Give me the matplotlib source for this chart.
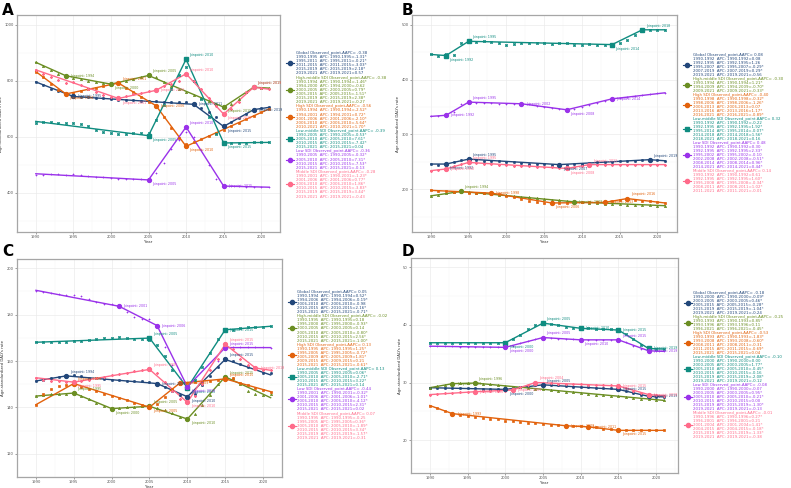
import numpy as np
import matplotlib.pyplot as plt
from matplotlib.lines import Line2D

years = np.arange(1990, 2022)
groups = ["Global", "High-middle SDI", "High SDI", "Low-middle SDI", "Low SDI", "Middle SDI"]
colors = ["#22477a", "#6b8e23", "#e2620c", "#0f8c80", "#9a32ea", "#ff6b8a"]

# ---------------- panel A ----------------
a_obs = [
    [796, 784, 771, 762, 754, 745, 742, 741, 739, 737, 735, 733, 731, 730, 729, 728,
     727, 726, 725, 724, 723, 718, 704, 688, 672, 640, 652, 667, 683, 697, 702, 705],
    [866, 853, 838, 826, 818, 810, 805, 799, 795, 791, 788, 792, 798, 806, 812, 818,
     812, 795, 780, 770, 760, 748, 737, 727, 716, 706, 717, 735, 760, 777, 776, 774],
    [833, 812, 788, 766, 753, 758, 764, 770, 776, 782, 788, 792, 776, 760, 742, 725,
     711, 670, 630, 596, 575, 580, 592, 604, 615, 625, 638, 650, 662, 675, 688, 700],
    [651, 652, 652, 651, 649, 648, 645, 638, 626, 617, 612, 610, 611, 614, 615, 614,
     660, 715, 770, 820, 850, 800, 735, 670, 610, 580, 578, 578, 579, 580, 580, 580],
    [463, 465, 466, 466, 465, 466, 463, 461, 458, 456, 453, 451, 451, 451, 451, 448,
     472, 507, 555, 590, 616, 600, 552, 500, 449, 425, 424, 423, 422, 422, 421, 421],
    [840, 825, 812, 802, 793, 795, 785, 772, 760, 750, 742, 737, 745, 752, 758, 764,
     772, 780, 790, 800, 824, 798, 770, 740, 710, 682, 700, 725, 760, 775, 773, 770],
]
a_jp_years = [
    [1990, 1995, 2011, 2015, 2019, 2021],
    [1990, 1994, 2000, 2005, 2015, 2019, 2021],
    [1990, 1994, 2001, 2006, 2010, 2021],
    [1990, 2005, 2010, 2015, 2021],
    [1990, 2005, 2010, 2015, 2021],
    [1990, 2001, 2006, 2010, 2015, 2019, 2021],
]
a_jp_vals = [
    [796, 744, 716, 637, 697, 705],
    [866, 818, 788, 819, 706, 777, 774],
    [833, 753, 792, 711, 566, 699],
    [655, 604, 877, 578, 580],
    [468, 446, 635, 424, 420],
    [839, 737, 766, 825, 681, 777, 770],
]
a_aapc = ["-0.38", "-0.38", "-0.56", "-0.39", "-0.36", "-0.28"]
a_apc = [
    ["-1.31*", "-0.21*", "-3.03*", "2.18*", "0.57"],
    ["-1.46*", "-0.62", "0.79*", "-1.51*", "2.38*", "-0.27"],
    ["-2.52*", "0.72*", "-2.10*", "-5.64*", "1.70*"],
    ["-0.53*", "7.61*", "-7.42*", "0.04"],
    ["-0.32*", "7.31*", "-7.53*", "-0.13"],
    ["-1.23*", "0.77*", "1.86*", "-3.83*", "3.44*", "-0.43"],
]

# ---------------- panel B ----------------
b_obs = [
    [246, 245, 246, 249, 253, 255, 253, 252, 251, 251, 250, 249, 248, 247, 247, 246,
     245, 245, 245, 246, 246, 248, 249, 250, 250, 251, 252, 252, 253, 254, 253, 252],
    [188, 190, 193, 195, 196, 195, 194, 193, 191, 190, 189, 188, 186, 185, 184, 183,
     181, 180, 178, 177, 176, 175, 175, 174, 174, 173, 172, 172, 171, 171, 170, 170],
    [198, 197, 196, 195, 195, 194, 194, 193, 193, 191, 188, 185, 182, 179, 177, 175,
     175, 175, 175, 176, 176, 176, 176, 176, 178, 180, 182, 181, 179, 178, 176, 175],
    [446, 443, 446, 445, 466, 471, 469, 470, 468, 466, 464, 465, 466, 467, 466, 466,
     465, 466, 466, 463, 464, 465, 463, 463, 465, 466, 473, 482, 490, 491, 490, 490],
    [333, 334, 335, 341, 355, 358, 357, 357, 358, 356, 356, 356, 356, 355, 352, 350,
     348, 346, 344, 347, 350, 354, 358, 361, 364, 366, 368, 370, 372, 374, 375, 376],
    [234, 236, 237, 242, 247, 249, 248, 247, 246, 245, 244, 243, 243, 242, 241, 241,
     240, 239, 238, 240, 242, 244, 245, 245, 245, 245, 245, 245, 245, 245, 245, 245],
]
b_jp_years = [
    [1990, 1992, 1995, 2007, 2019, 2021],
    [1990, 1994, 2009, 2021],
    [1990, 1998, 2006, 2013, 2016, 2021],
    [1990, 1992, 1995, 2014, 2018, 2021],
    [1990, 1992, 1995, 2002, 2008, 2014, 2021],
    [1990, 1992, 1995, 2008, 2011, 2021],
]
b_jp_vals = [
    [246, 246, 255, 245, 254, 252],
    [188, 196, 177, 170],
    [198, 193, 175, 176, 183, 175],
    [446, 444, 470, 464, 491, 491],
    [333, 335, 359, 356, 345, 365, 376],
    [234, 237, 249, 238, 245, 245],
]
b_aapc = ["0.08", "-0.30", "-0.40", "0.32", "0.48", "0.14"]
b_apc = [
    ["0.08", "1.26", "-0.29*", "0.29*", "-0.56"],
    ["1.21*", "-0.70*", "-0.33*"],
    ["-0.32*", "-1.26*", "0.07", "1.17*", "-0.89*"],
    ["-0.22", "1.92*", "-0.07*", "1.56*", "0.16"],
    ["0.30", "2.33*", "-0.10", "-0.51*", "0.96*", "0.44*"],
    ["0.61", "1.60*", "-0.34*", "1.02*", "-0.01"],
]

# ---------------- panel C ----------------
c_obs = [
    [151.3, 152.0, 152.8, 153.3, 153.6, 154.0, 153.4, 152.9, 152.6, 152.3, 152.0, 151.8,
     151.6, 151.4, 151.2, 150.9, 150.6, 148.8, 147.2, 145.5, 144.6, 146.0, 149.5, 153.5,
     157.5, 160.3, 160.0, 158.8, 157.5, 156.5, 155.0, 154.8],
    [144.9, 145.3, 145.8, 145.9, 146.0, 146.2, 145.0, 143.5, 142.0, 140.5, 139.6, 139.8,
     140.0, 140.2, 140.4, 140.6, 139.8, 138.7, 137.5, 135.9, 135.2, 137.0, 141.0, 145.5,
     150.0, 153.0, 152.5, 150.0, 147.0, 145.8, 145.5, 146.0],
    [141.1, 146.0, 148.0, 149.2, 149.8, 150.2, 149.0, 148.0, 147.0, 146.0, 145.0, 144.0,
     143.0, 142.0, 141.0, 140.2, 141.5, 144.5, 147.8, 150.2, 150.5, 150.8, 151.0, 151.3,
     151.8, 152.4, 152.5, 150.5, 149.5, 148.5, 147.5, 146.8],
    [168.0, 168.0, 168.0, 168.1, 168.3, 168.5, 168.7, 169.0, 169.3, 169.8, 170.0, 170.2,
     170.0, 169.7, 169.3, 169.2, 167.0, 162.0, 156.0, 150.5, 148.0, 152.0, 157.5, 163.5,
     169.5, 173.0, 173.5, 174.2, 174.6, 174.8, 174.8, 175.0],
    [190.3, 189.8, 189.3, 188.8, 188.6, 188.5, 188.0, 186.7, 185.5, 184.8, 184.5, 183.4,
     181.0, 179.0, 178.2, 178.0, 175.0, 166.0, 158.5, 152.5, 148.8, 146.5, 151.0, 156.0,
     160.0, 165.0, 166.0, 166.0, 166.0, 166.0, 166.0, 165.8],
    [152.8, 152.0, 151.5, 151.2, 151.0, 150.9, 151.5, 152.0, 152.6, 153.2, 153.8, 154.4,
     155.0, 155.6, 156.0, 156.2, 155.0, 151.0, 147.0, 143.5, 142.0, 145.0, 150.0, 156.0,
     161.0, 166.5, 165.0, 161.0, 158.5, 157.0, 156.3, 156.0],
]
c_jp_years = [
    [1990, 1994, 2006, 2010, 2015, 2021],
    [1990, 1995, 2000, 2005, 2010, 2015, 2021],
    [1990, 1995, 2005, 2009, 2015, 2021],
    [1990, 2005, 2010, 2015, 2021],
    [1990, 2001, 2006, 2010, 2015, 2021],
    [1990, 1995, 2005, 2010, 2015, 2019, 2021],
]
c_jp_vals = [
    [151.4, 153.6, 150.3, 144.6, 160.7, 154.0],
    [144.9, 146.2, 139.5, 140.5, 135.0, 153.2, 144.2],
    [141.2, 150.3, 140.1, 150.5, 152.3, 146.8],
    [168.1, 169.9, 148.5, 173.5, 175.0],
    [190.5, 183.6, 175.3, 148.9, 165.8, 165.8],
    [152.8, 150.9, 156.4, 142.2, 167.2, 157.0, 156.0],
]
c_aapc = ["0.05", "-0.02", "0.13", "0.13", "-0.44", "0.07"]
c_apc = [
    ["0.52*", "-0.19*", "-0.98", "2.16*", "-0.71*"],
    ["0.18", "-0.93*", "0.14", "-0.80*", "2.56*", "-1.00*"],
    ["1.25*", "-0.72*", "1.81*", "0.21", "-0.61*"],
    ["0.06*", "-2.71*", "3.22*", "0.14"],
    ["-0.32*", "-1.01*", "-4.12*", "2.31*", "0.02"],
    ["-0.25", "0.36*", "-1.89*", "3.34*", "-1.57*", "-0.31"],
]

# ---------------- panel D ----------------
d_obs = [
    [29.1, 29.1, 29.0, 29.0, 29.0, 29.0, 29.0, 28.9, 28.9, 28.9, 28.8, 29.0, 29.2, 29.4,
     29.5, 29.6, 29.5, 29.5, 29.4, 29.3, 29.2, 29.2, 29.1, 29.0, 29.0, 28.8, 28.5, 28.2,
     27.9, 27.6, 27.5, 27.5],
    [29.1, 29.4, 29.6, 29.8, 29.9, 29.9, 29.9, 29.8, 29.7, 29.5, 29.4, 29.3, 29.2, 29.0,
     28.9, 28.8, 28.7, 28.5, 28.4, 28.3, 28.2, 28.0, 27.9, 27.8, 27.7, 27.6, 27.5, 27.3,
     27.2, 27.1, 27.0, 26.9],
    [26.0, 25.5, 25.0, 24.6, 24.4, 24.2, 24.1, 23.9, 23.7, 23.6, 23.4, 23.3, 23.1, 23.0,
     22.9, 22.8, 22.7, 22.6, 22.5, 22.4, 22.4, 22.3, 22.2, 22.0, 21.9, 21.7, 21.7, 21.7,
     21.7, 21.7, 21.7, 21.7],
    [36.9, 36.9, 36.9, 36.9, 36.9, 36.9, 36.9, 36.9, 36.9, 36.9, 36.9, 37.5, 38.3, 39.2,
     40.0, 40.4, 40.1, 39.9, 39.7, 39.5, 39.4, 39.4, 39.3, 39.3, 39.2, 39.1, 38.5, 37.5,
     36.5, 35.9, 35.8, 35.8],
    [36.3, 36.3, 36.3, 36.3, 36.2, 36.2, 36.2, 36.2, 36.2, 36.1, 36.1, 36.4, 36.8, 37.2,
     37.6, 37.8, 37.7, 37.6, 37.5, 37.5, 37.4, 37.4, 37.4, 37.4, 37.4, 37.4, 37.0, 36.4,
     35.8, 35.5, 35.4, 35.4],
    [27.9, 28.0, 28.1, 28.2, 28.3, 28.4, 28.4, 28.5, 28.5, 28.6, 28.6, 28.7, 29.2, 29.6,
     30.0, 29.9, 29.9, 29.8, 29.8, 29.7, 29.7, 29.6, 29.6, 29.5, 29.5, 29.4, 29.0, 28.6,
     28.2, 27.9, 27.8, 27.7],
]
d_jp_years = [
    [1990, 2000, 2005, 2015, 2019, 2021],
    [1990, 1993, 1996, 2021],
    [1990, 1993, 2008, 2011, 2015, 2021],
    [1990, 2000, 2005, 2010, 2015, 2019, 2021],
    [1990, 2000, 2005, 2010, 2015, 2019, 2021],
    [1990, 1996, 2001, 2004, 2015, 2019, 2021],
]
d_jp_vals = [
    [29.1, 28.8, 29.6, 28.8, 27.6, 27.5],
    [29.1, 29.8, 29.9, 26.9],
    [26.0, 24.6, 22.5, 22.3, 21.7, 21.7],
    [36.9, 36.9, 40.3, 39.4, 39.1, 35.9, 35.8],
    [36.3, 36.1, 37.8, 37.4, 37.4, 35.5, 35.4],
    [27.9, 28.4, 28.7, 30.0, 29.4, 27.9, 27.7],
]
d_aapc = ["-0.18", "-0.25", "-0.53", "-0.10", "-0.08", "-0.01"]
d_apc = [
    ["-0.09*", "0.46*", "-0.28*", "-1.04*", "-0.24"],
    ["0.85*", "0.11", "-0.45*"],
    ["-1.83*", "-0.60*", "-0.31", "-0.69*", "0.04"],
    ["0.00", "1.77*", "-0.45*", "-0.16", "-2.08*", "-0.12"],
    ["-0.07", "0.95*", "-0.21*", "0.00", "-1.30*", "-0.13"],
    ["0.27*", "0.21", "1.41*", "-0.18*", "-1.33*", "-0.38"],
]

panels = [
    ("A", a_obs, a_jp_years, a_jp_vals, a_aapc, a_apc),
    ("B", b_obs, b_jp_years, b_jp_vals, b_aapc, b_apc),
    ("C", c_obs, c_jp_years, c_jp_vals, c_aapc, c_apc),
    ("D", d_obs, d_jp_years, d_jp_vals, d_aapc, d_apc),
]

# layout, in pixels of the 791x488 picture
W, H = 791, 488
boxes = {"A": (17, 15, 280, 232), "B": (412, 15, 677, 232),
         "C": (17, 259, 282, 477), "D": (411, 258, 678, 473)}
xlims = {"A": (1988.4, 2022.4), "B": (1988.5, 2022.6),
         "C": (1988.5, 2022.45), "D": (1988.55, 2022.9)}
ylims = {"A": (260, 1035), "B": (122, 518), "C": (116, 204), "D": (14.3, 51.6)}
yticks = {"A": [400, 600, 800, 1000], "B": [200, 300, 400, 500],
          "C": [120, 140, 160, 180, 200], "D": [20, 30, 40, 50]}
legpos = {"A": (290, 296, 53, 4.1), "B": (687, 693, 55, 4.0),
          "C": (292, 297, 292, 4.05), "D": (688, 693, 293, 4.0)}
letterpos = {"A": (2, 3), "B": (402, 3), "C": (2, 244), "D": (402, 244)}

obs_marker = ["o", "^", "s", "s", "+", (8, 2, 0)]
obs_fill = [True, True, True, False, True, True]

fig = plt.figure(figsize=(W / 100, H / 100), dpi=100)

for name, obs, jpy, jpv, aapc, apc in panels:
    l, t, r, b = boxes[name]
    ax = fig.add_axes([l / W, 1 - b / H, (r - l) / W, (b - t) / H])
    ax.set_xlim(*xlims[name])
    ax.set_ylim(*ylims[name])
    ax.set_xticks([1990, 1995, 2000, 2005, 2010, 2015, 2020])
    ax.set_yticks(yticks[name])
    ax.set_xticks(np.arange(1987.5, 2023, 5), minor=True)
    ystep = yticks[name][1] - yticks[name][0]
    ax.set_yticks(np.arange(yticks[name][0] - ystep / 2, ylims[name][1], ystep), minor=True)
    ax.grid(which="major", color="#ebebeb", lw=0.5)
    ax.grid(which="minor", color="#f4f4f4", lw=0.3)
    ax.set_axisbelow(True)
    for sp in ax.spines.values():
        sp.set_color("#a6a6a6")
        sp.set_linewidth(0.9)
    ax.tick_params(which="major", labelsize=2.6, colors="#555555", length=1.2, width=0.4, pad=1.2)
    ax.tick_params(which="minor", length=0)
    ax.set_xlabel("Year", fontsize=2.8, color="#333333", labelpad=0.5)
    ax.set_ylabel("Age-standardized DALYs rate", fontsize=2.8, color="#333333", labelpad=1)

    for i, col in enumerate(colors):
        ax.plot(jpy[i], jpv[i], color=col, lw=1.0, zorder=3)
        mk = obs_marker[i]
        if obs_fill[i]:
            ax.plot(years, obs[i], ls="none", marker=mk, ms=1.6, color=col, mew=0.5, zorder=4)
        else:
            ax.plot(years, obs[i], ls="none", marker=mk, ms=2.0, mfc="none", mec=col, mew=0.5, zorder=4)
            ax.plot(years, obs[i], ls="none", marker="x", ms=1.6, color=col, mew=0.4, zorder=4)
        inner_x = jpy[i][1:-1]
        inner_y = jpv[i][1:-1]
        ax.plot(inner_x, inner_y, ls="none", marker="o" if i != 3 else "s",
                ms=2.8, color=col, zorder=5)
        for k in range(1, len(jpy[i]) - 1):
            prev_v, v, next_v = jpv[i][k - 1], jpv[i][k], jpv[i][k + 1]
            if v >= prev_v and v >= next_v:
                off, va = (2.5, 1.5), "bottom"
            elif v <= prev_v and v <= next_v:
                off, va = (2.5, -1.5), "top"
            else:
                off, va = (3.0, 0.0), "center"
            ax.annotate(f"Joinpoint: {jpy[i][k]}", (jpy[i][k], v), xytext=off,
                        textcoords="offset points", fontsize=2.3, color=col,
                        ha="left", va=va, zorder=6)

    # legend column at the right of the panel
    mx, tx, ty, step = legpos[name]
    line = 0
    for i, col in enumerate(colors):
        rows = [f"{groups[i]} Observed_point,AAPC= {aapc[i]}"]
        for k, v in enumerate(apc[i]):
            y0, y1 = jpy[i][k], jpy[i][k + 1]
            rows.append(f"{y0}-{y1}  APC: {y0}-{y1}={v}")
        first = line
        for s in rows:
            fig.text(tx / W, 1 - (ty + line * step) / H, s, fontsize=2.75,
                     color=col, ha="left", va="center")
            line += 1
        ymid = ty + (first + line - 1) / 2 * step
        fig.add_artist(Line2D([(mx - 4) / W, (mx + 4) / W], [1 - ymid / H] * 2,
                              color=col, lw=0.8))
        fig.add_artist(Line2D([mx / W], [1 - ymid / H], marker="o" if i != 3 else "s",
                              ms=3.0, color=col))

    lx, ly = letterpos[name]
    fig.text(lx / W, 1 - ly / H, name, fontsize=11, fontweight="bold",
             ha="left", va="top")

fig.savefig("out.png", dpi=100)
